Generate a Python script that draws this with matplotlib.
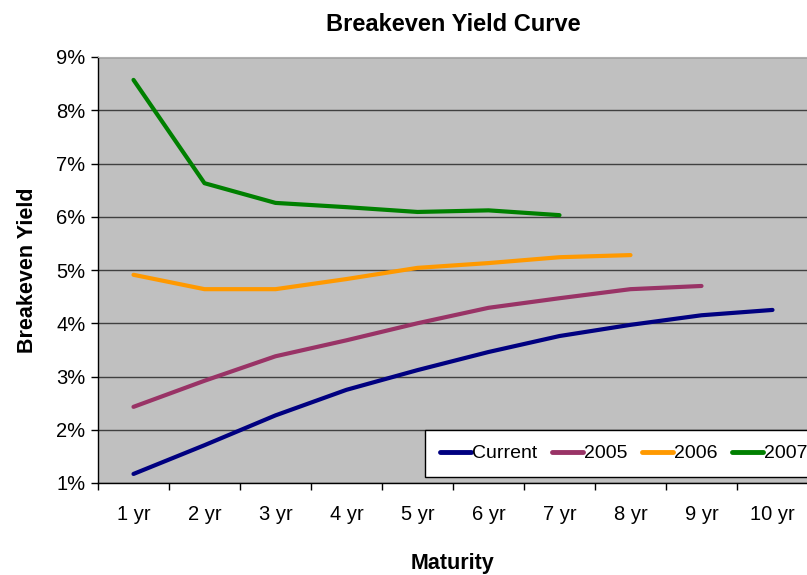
import matplotlib
matplotlib.use('Agg')
import matplotlib.pyplot as plt
from matplotlib.ticker import FixedLocator, NullFormatter

plt.rcParams['font.family'] = ['Liberation Sans', 'DejaVu Sans']

# data
maturities = ['1 yr', '2 yr', '3 yr', '4 yr', '5 yr', '6 yr', '7 yr', '8 yr', '9 yr', '10 yr']
current = [1.17, 1.71, 2.27, 2.75, 3.12, 3.46, 3.76, 3.97, 4.15, 4.25]
y2005 = [2.43, 2.92, 3.38, 3.68, 4.00, 4.29, 4.47, 4.64, 4.70]
y2006 = [4.91, 4.64, 4.64, 4.83, 5.04, 5.13, 5.24, 5.28]
y2007 = [8.57, 6.63, 6.26, 6.18, 6.09, 6.12, 6.03]

series = [('Current', current, '#000080'),
          ('2005', y2005, '#993366'),
          ('2006', y2006, '#FF9900'),
          ('2007', y2007, '#008000')]

fig = plt.figure(figsize=(8.07, 5.75), dpi=100)
ax = fig.add_axes([98 / 807, 1 - 483 / 575, 710 / 807, 426 / 575])
ax.set_facecolor('#C0C0C0')

for name, vals, col in series:
    ax.plot(range(len(vals)), vals, color=col, lw=3, label=name, solid_capstyle='round')

ax.set_xlim(-0.5, len(maturities) - 0.5)
ax.set_ylim(1, 9)
ax.set_yticks(range(1, 10))
ax.set_yticklabels([f'{v}%' for v in range(1, 10)])
ax.yaxis.grid(True, color='#404040', lw=1)
ax.set_axisbelow(True)

# category labels at centres, tick marks at boundaries
ax.set_xticks(range(len(maturities)))
ax.set_xticklabels(maturities)
ax.xaxis.set_minor_locator(FixedLocator([i - 0.5 for i in range(len(maturities) + 1)]))
ax.xaxis.set_minor_formatter(NullFormatter())
ax.tick_params(axis='x', which='major', length=0, pad=16, labelsize=14.5)
ax.tick_params(axis='x', which='minor', length=5, width=1, direction='out', color='black')
ax.tick_params(axis='y', length=5, width=1, direction='out', labelsize=14.5, pad=4)

for s in ['top', 'right']:
    ax.spines[s].set_color('#B0B0B0')
for s in ['left', 'bottom']:
    ax.spines[s].set_color('black')
    ax.spines[s].set_linewidth(1)

ax.set_title('Breakeven Yield Curve', fontsize=17, fontweight='bold', pad=19)
ax.set_xlabel('Maturity', fontsize=15.5, fontweight='bold', labelpad=21)
ax.set_ylabel('Breakeven Yield', fontsize=15.5, fontweight='bold', labelpad=13)

leg = ax.legend(loc='lower right', bbox_to_anchor=(1.02, 0.014), ncol=4, fontsize=14,
                frameon=True, fancybox=False, edgecolor='black', framealpha=1,
                handlelength=1.6, handletextpad=0.05, columnspacing=0.75,
                borderpad=0.75, borderaxespad=0)
leg.get_frame().set_linewidth(1)
for h in leg.get_lines():
    h.set_linewidth(3.5)

fig.savefig('out.png', dpi=100)
